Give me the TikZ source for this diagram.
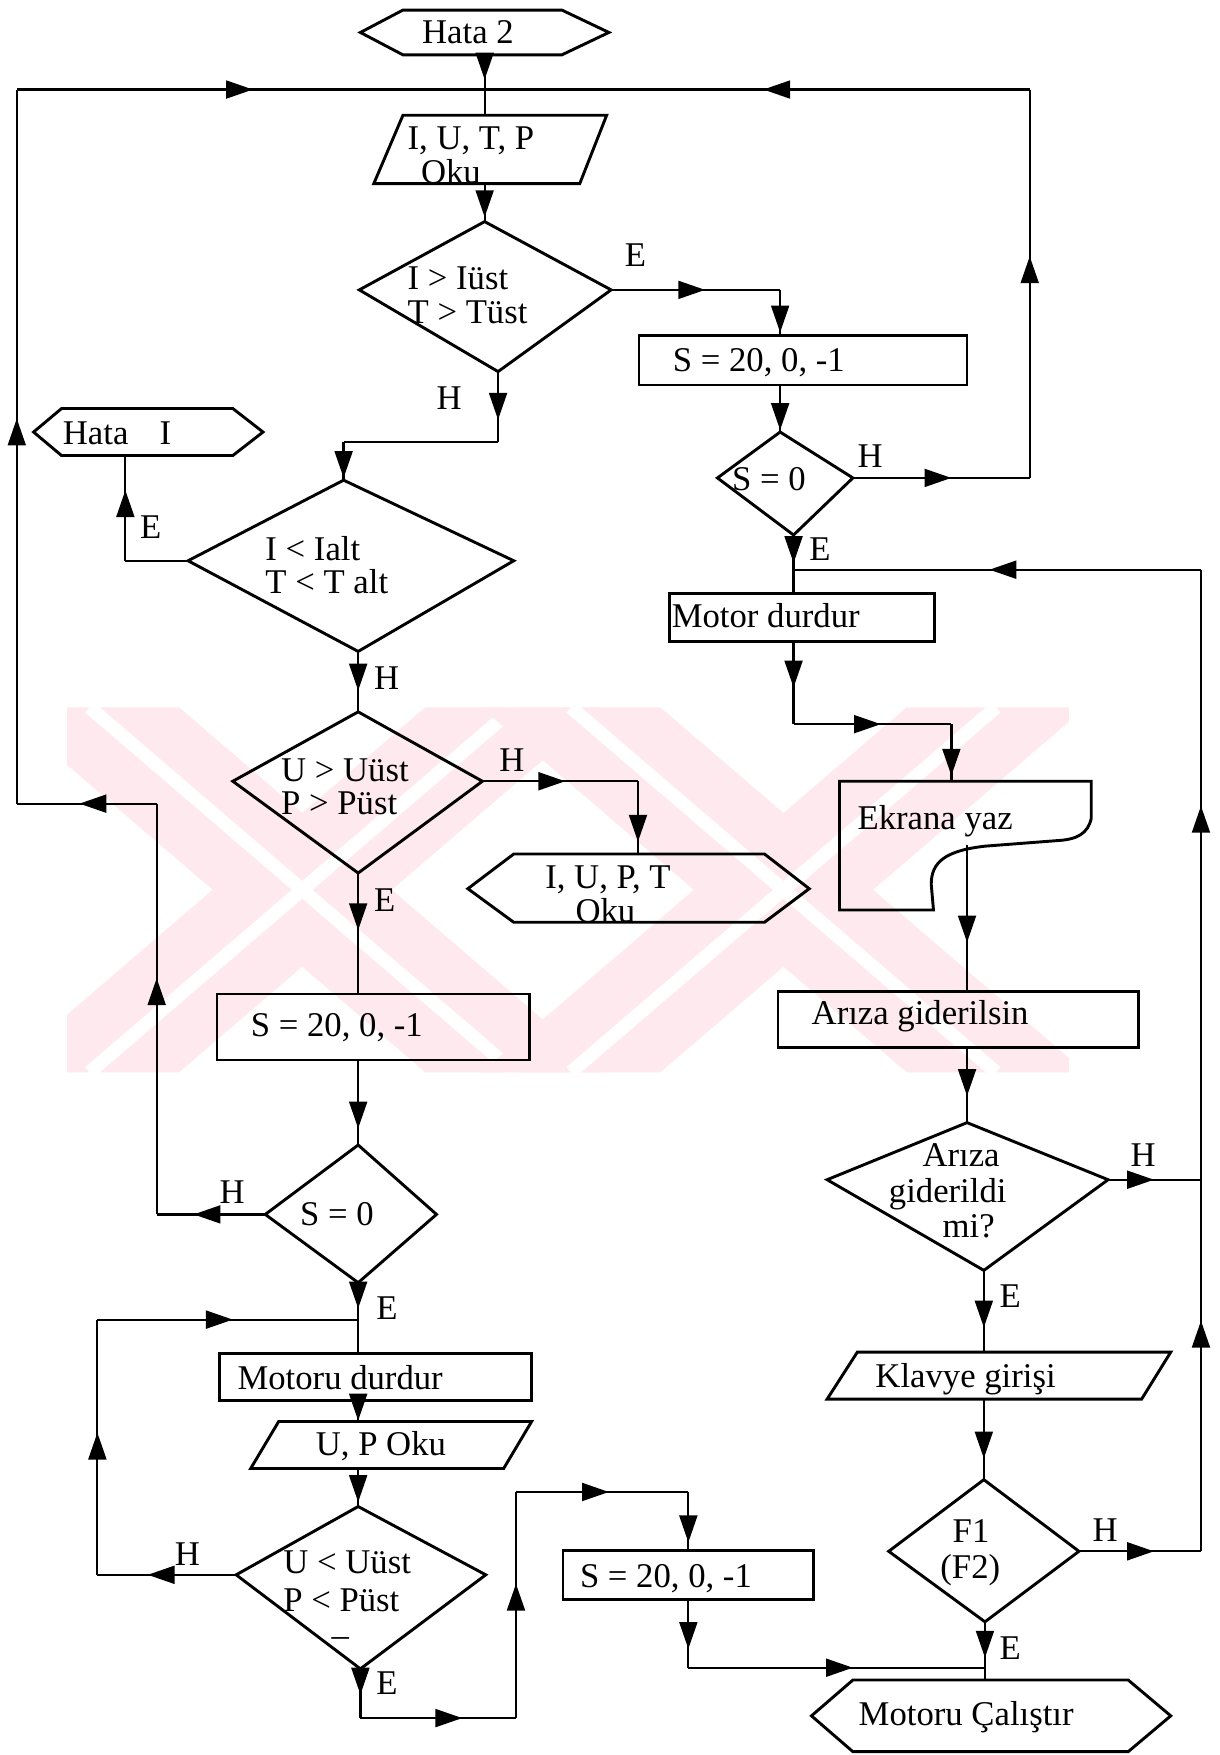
\documentclass[tikz,border=0pt]{standalone}
\usepackage{fontspec}
\setmainfont{Liberation Serif}
\usetikzlibrary{arrows.meta,decorations.markings}
\definecolor{wmpink}{RGB}{254,234,238}
\newcommand\chartfont{\fontsize{31pt}{31pt}\selectfont}
\begin{document}
\begin{tikzpicture}[x=1pt,y=-1pt,
  conn/.style={line width=2pt},
  outline/.style={line width=2.6pt, line join=miter},
  arrowat/.style={postaction={decorate,decoration={markings,
      mark=at position #1 with {\arrow{Triangle[length=24pt,width=16pt]}}}}},
  procbox/.style={draw, line width=2.4pt, rectangle, inner sep=0pt},
  txt/.style={anchor=base west, inner sep=0pt, font=\chartfont},
  band/.style={fill=wmpink},
  gap/.style={draw=white, line width=12pt},
]
\fill[white] (0,0) rectangle (1090,1568);
\useasboundingbox (0,0) rectangle (1090,1568);

% faint background emblem: two striped crosses
\begin{scope}
  \clip (60,632) rectangle (955,958);
  \foreach \c in {270,700}{
    \fill[band] (\c-270,632) -- (\c-110,632) -- (\c+270,958) -- (\c+110,958) -- cycle;
    \fill[band] (\c+110,632) -- (\c+270,632) -- (\c-110,958) -- (\c-270,958) -- cycle;
    \draw[gap] (\c-190,632) -- (\c+190,958);
    \draw[gap] (\c+190,632) -- (\c-190,958);
  }
\end{scope}

% ---------- shapes ----------
% terminals (hexagons)
\draw[outline] (322,29) -- (360,9) -- (502,9) -- (544,29) -- (502,49) -- (360,49) -- cycle;
\draw[outline] (30,386) -- (55,365) -- (208,365) -- (235,386) -- (208,407) -- (55,407) -- cycle;
\draw[outline] (418,794) -- (459,763) -- (683,763) -- (723,794) -- (683,824) -- (459,824) -- cycle;
\draw[outline] (725,1533) -- (762,1501) -- (1008,1501) -- (1046,1533) -- (1008,1565) -- (762,1565) -- cycle;
% input/output (parallelograms)
\draw[outline] (360,103) -- (542,103) -- (518,164) -- (334,164) -- cycle;
\draw[outline] (249,1270) -- (475,1270) -- (450,1312) -- (224,1312) -- cycle;
\draw[outline] (766,1208) -- (1046,1208) -- (1020,1250) -- (739,1250) -- cycle;
% display symbol
\draw[outline] (750,698) -- (975,698) -- (975,731)
  .. controls (972,745) and (962,750) .. (945,751) -- (880,756)
  .. controls (845,760) and (832,770) .. (832,790) -- (834,813) -- (750,813) -- cycle;

% decision vertices
\coordinate (d1n) at (433,198); \coordinate (d1e) at (546,259);
\coordinate (d1s) at (445,332); \coordinate (d1w) at (321,259);
\coordinate (d2n) at (697,386); \coordinate (d2e) at (762,427);
\coordinate (d2s) at (709,478); \coordinate (d2w) at (641,427);
\coordinate (d3n) at (864,1003); \coordinate (d3e) at (990,1054);
\coordinate (d3s) at (879,1135); \coordinate (d3w) at (739,1054);
\coordinate (d4n) at (879,1322); \coordinate (d4e) at (964,1386);
\coordinate (d4s) at (880,1449); \coordinate (d4w) at (794,1386);
\coordinate (d5n) at (307,429); \coordinate (d5e) at (459,501);
\coordinate (d5s) at (320,582); \coordinate (d5w) at (168,501);
\coordinate (d6n) at (320,636); \coordinate (d6e) at (431,698);
\coordinate (d6s) at (320,780); \coordinate (d6w) at (208,698);
\coordinate (d7n) at (320,1023); \coordinate (d7e) at (390,1085);
\coordinate (d7s) at (320,1146); \coordinate (d7w) at (237,1085);
\coordinate (d8n) at (320,1346); \coordinate (d8e) at (434,1407);
\coordinate (d8s) at (322,1491); \coordinate (d8w) at (211,1407);
\foreach \d in {d1,d2,d3,d4,d5,d6,d7,d8}
  \draw[outline] (\d n) -- (\d e) -- (\d s) -- (\d w) -- cycle;

% process boxes
\node[procbox, minimum width=293pt, minimum height=44pt] (s1) at (717.5,322) {};
\node[procbox, minimum width=237pt, minimum height=43pt] (motor) at (716.5,551.5) {};
\node[procbox, minimum width=322pt, minimum height=50pt] (ariza) at (856,911) {};
\node[procbox, minimum width=279pt, minimum height=59pt] (s2) at (333.5,917.5) {};
\node[procbox, minimum width=279pt, minimum height=42pt] (motoru) at (335.5,1230) {};
\node[procbox, minimum width=224pt, minimum height=44pt] (s3) at (615,1407) {};

% ---------- connection points ----------
\coordinate (h2s) at (433,49);   \coordinate (topj) at (433,80);
\coordinate (o1n) at (433,103);  \coordinate (o1s) at (433,164);
\coordinate (e1c) at (697,259);
\coordinate (rc1) at (920,427);  \coordinate (rc2) at (920,80);
\coordinate (mj) at (709,509);
\coordinate (rb1) at (1073,1386); \coordinate (rb2) at (1073,1054); \coordinate (rb3) at (1073,509);
\coordinate (mc1) at (709,647);  \coordinate (mc2) at (850,647);
\coordinate (ekn) at (850,698);  \coordinate (eks) at (864,755);
\coordinate (kln) at (879,1208); \coordinate (kls) at (879,1250);
\coordinate (bj) at (880,1490);  \coordinate (can) at (880,1501);
\coordinate (bc1) at (615,1490);
\coordinate (lc1) at (445,395);  \coordinate (lc2) at (307,395);
\coordinate (hc1) at (112,501);  \coordinate (h1s) at (112,407);
\coordinate (pc1) at (570,698);  \coordinate (hxn) at (570,763);
\coordinate (lp1) at (140,1085); \coordinate (lp2) at (140,718);
\coordinate (lp3) at (15,718);   \coordinate (lp4) at (15,80);
\coordinate (dj) at (320,1179);
\coordinate (o2n) at (320,1270); \coordinate (o2s) at (320,1312);
\coordinate (lq1) at (87,1407);  \coordinate (lq2) at (87,1179);
\coordinate (bq1) at (322,1535); \coordinate (bq2) at (461,1535);
\coordinate (bq3) at (461,1333); \coordinate (bq4) at (615,1333);

% ---------- connectors ----------
\draw[conn, arrowat=22pt] (h2s) -- (topj);
\draw[conn] (topj) -- (o1n);
\draw[conn, arrowat=30pt] (o1s) -- (d1n);
% right return loop
\draw[conn, arrowat=88pt] (d2e) -- (rc1);
\draw[conn, arrowat=198pt] (rc1) -- (rc2);
\draw[conn, arrowat=238pt] (rc2) -- (topj);
% right column
\draw[conn, arrowat=84pt] (d1e) -- (e1c);
\draw[conn, arrowat=38pt] (e1c) -- (e1c |- s1.north);
\draw[conn, arrowat=39pt] (d2n |- s1.south) -- (d2n);
\draw[conn, arrowat=25pt] (d2s) -- (mj);
\draw[conn] (mj) -- (mj |- motor.north);
\draw[conn, arrowat=67pt] (d4e) -- (rb1);
\draw[conn, arrowat=206pt] (rb1) -- (rb2);
\draw[conn, arrowat=41pt] (d3e) -- (rb2);
\draw[conn, arrowat=334pt] (rb2) -- (rb3);
\draw[conn, arrowat=189pt] (rb3) -- (mj);
\draw[conn, arrowat=40pt] (mc1 |- motor.south) -- (mc1);
\draw[conn, arrowat=78pt] (mc1) -- (mc2);
\draw[conn, arrowat=46pt] (mc2) -- (ekn);
\draw[conn, arrowat=87pt] (eks) -- (eks |- ariza.north);
\draw[conn, arrowat=42pt] (d3n |- ariza.south) -- (d3n);
\draw[conn, arrowat=51pt] (d3s) -- (kln);
\draw[conn, arrowat=53pt] (kls) -- (d4n);
\draw[conn, arrowat=32pt] (d4s) -- (bj);
\draw[conn] (bj) -- (can);
\draw[conn, arrowat=43pt] (bc1 |- s3.south) -- (bc1);
\draw[conn, arrowat=147pt] (bc1) -- (bj);
% left column
\draw[conn, arrowat=43pt] (d1s) -- (lc1);
\draw[conn] (lc1) -- (lc2);
\draw[conn, arrowat=32pt] (lc2) -- (d5n);
\draw[conn] (d5w) -- (hc1);
\draw[conn, arrowat=63pt] (hc1) -- (h1s);
\draw[conn, arrowat=35pt] (d5s) -- (d6n);
\draw[conn, arrowat=74pt] (d6e) -- (pc1);
\draw[conn, arrowat=54pt] (pc1) -- (hxn);
\draw[conn, arrowat=51pt] (d6s) -- (d6s |- s2.north);
\draw[conn, arrowat=60pt] (d7n |- s2.south) -- (d7n);
% left return loop
\draw[conn, arrowat=64pt] (d7w) -- (lp1);
\draw[conn, arrowat=211pt] (lp1) -- (lp2);
\draw[conn, arrowat=69pt] (lp2) -- (lp3);
\draw[conn, arrowat=344pt] (lp3) -- (lp4);
\draw[conn, arrowat=211pt] (lp4) -- (topj);
% lower left
\draw[conn, arrowat=23pt] (d7s) -- (dj);
\draw[conn] (dj) -- (dj |- motoru.north);
\draw[conn, arrowat=17pt] (o2n |- motoru.south) -- (o2n);
\draw[conn, arrowat=30pt] (o2s) -- (d8n);
\draw[conn, arrowat=79pt] (d8w) -- (lq1);
\draw[conn, arrowat=127pt] (lq1) -- (lq2);
\draw[conn, arrowat=121pt] (lq2) -- (dj);
\draw[conn, arrowat=23pt] (d8s) -- (bq1);
\draw[conn, arrowat=91pt] (bq1) -- (bq2);
\draw[conn, arrowat=120pt] (bq2) -- (bq3);
\draw[conn, arrowat=83pt] (bq3) -- (bq4);
\draw[conn, arrowat=45pt] (bq4) -- (bq4 |- s3.north);

% ---------- texts ----------
\node[txt] (thata2) at (377,39) {Hata 2};
\node[txt] (tiutp) at (364,134) {I, U, T, P};
\node[txt] (toku1) at (376,164) {Oku};
\node[txt] (tc1a) at (364,259) {I > Iüst};
\node[txt] (tc1b) at (364,289) {T > Tüst};
\node[txt] (ts1) at (601,332) {S = 20, 0, -1};
\node[txt] (ts0r) at (654,438) {S = 0};
\node[txt] (tmotor) at (600,561) {Motor durdur};
\node[txt] (tekran) at (766,741) {Ekrana yaz};
\node[txt] (tariza) at (725,915) {Arıza giderilsin};
\node[txt] (tq1) at (824,1042) {Arıza};
\node[txt] (tq2) at (794,1074) {giderildi};
\node[txt] (tq3) at (842,1106) {mi?};
\node[txt] (tklavye) at (782,1240) {Klavye girişi};
\node[txt] (tf1) at (851,1378) {F1};
\node[txt] (tf2) at (840,1410) {(F2)};
\node[txt] (tcal) at (767,1542) {Motoru Çalıştır};
\node[txt] (thata1) at (56,397) {Hata\hspace{28pt}I};
\node[txt] (tc2a) at (237,501) {I < Ialt};
\node[txt] (tc2b) at (237,530) {T < T alt};
\node[txt] (tc3a) at (251,698) {U > Uüst};
\node[txt] (tc3b) at (251,728) {P > Püst};
\node[txt] (tiupt) at (487,794) {I, U, P, T};
\node[txt] (toku2) at (514,824) {Oku};
\node[txt] (ts2) at (224,926) {S = 20, 0, -1};
\node[txt] (ts0l) at (268,1095) {S = 0};
\node[txt] (tmotoru) at (212,1241) {Motoru durdur};
\node[txt] (tupoku) at (282,1300) {U, P Oku};
\node[txt] (tc4a) at (253,1406) {U < Uüst};
\node[txt] (tc4b) at (253,1440) {P < Püst};
\node[txt, anchor=base] (tdash) at (304,1471) {–};
\node[txt] (ts3) at (518,1418) {S = 20, 0, -1};
% branch labels
\node[txt] (b1) at (558,238) {E};
\node[txt] (b2) at (390,366) {H};
\node[txt] (b3) at (766,418) {H};
\node[txt] (b4) at (723,501) {E};
\node[txt] (b5) at (125,481) {E};
\node[txt] (b6) at (334,616) {H};
\node[txt] (b7) at (446,689) {H};
\node[txt] (b8) at (334,814) {E};
\node[txt] (b9) at (196,1075) {H};
\node[txt] (b10) at (336,1179) {E};
\node[txt] (b11) at (156,1399) {H};
\node[txt] (b12) at (336,1514) {E};
\node[txt] (b13) at (1010,1042) {H};
\node[txt] (b14) at (893,1168) {E};
\node[txt] (b15) at (976,1377) {H};
\node[txt] (b16) at (893,1483) {E};
\end{tikzpicture}
\end{document}
